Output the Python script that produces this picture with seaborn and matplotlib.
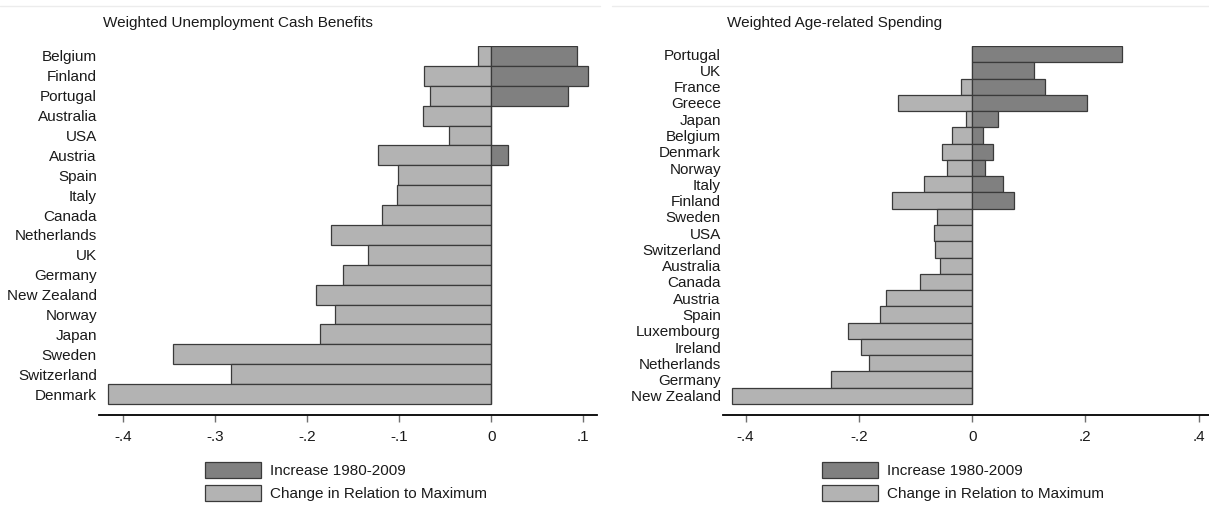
import matplotlib
matplotlib.use("Agg")
import matplotlib.pyplot as plt
from matplotlib.patches import Patch
from matplotlib.lines import Line2D
import seaborn as sns
import pandas as pd

# ---------------- data ----------------
left_countries = ["Belgium", "Finland", "Portugal", "Australia", "USA", "Austria",
                  "Spain", "Italy", "Canada", "Netherlands", "UK", "Germany",
                  "New Zealand", "Norway", "Japan", "Sweden", "Switzerland", "Denmark"]
left_increase = [0.093, 0.105, 0.083, 0, 0, 0.018,
                 0, 0, 0, 0, 0, 0,
                 0, 0, 0, 0, 0, 0]
left_change = [-0.014, -0.073, -0.066, -0.074, -0.046, -0.123,
               -0.101, -0.102, -0.119, -0.174, -0.134, -0.161,
               -0.190, -0.170, -0.186, -0.346, -0.283, -0.416]

right_countries = ["Portugal", "UK", "France", "Greece", "Japan", "Belgium",
                   "Denmark", "Norway", "Italy", "Finland", "Sweden", "USA",
                   "Switzerland", "Australia", "Canada", "Austria", "Spain",
                   "Luxembourg", "Ireland", "Netherlands", "Germany", "New Zealand"]
right_increase = [0.264, 0.110, 0.129, 0.202, 0.045, 0.020,
                  0.037, 0.022, 0.055, 0.074, 0, 0,
                  0, 0, 0, 0, 0,
                  0, 0, 0, 0, 0]
right_change = [0, 0, -0.020, -0.131, -0.011, -0.036,
                -0.053, -0.045, -0.085, -0.142, -0.062, -0.068,
                -0.065, -0.056, -0.092, -0.152, -0.163,
                -0.219, -0.197, -0.182, -0.249, -0.424]

left_title = "Weighted Unemployment Cash Benefits"
right_title = "Weighted Age-related Spending"
left_ticks = [-0.4, -0.3, -0.2, -0.1, 0, 0.1]
left_ticklabels = ["-.4", "-.3", "-.2", "-.1", "0", ".1"]
right_ticks = [-0.4, -0.2, 0, 0.2, 0.4]
right_ticklabels = ["-.4", "-.2", "0", ".2", ".4"]
legend_labels = ["Increase 1980-2009", "Change in Relation to Maximum"]

# ---------------- style ----------------
sns.set_theme(style="white")
plt.rcParams["font.family"] = ["Liberation Sans", "DejaVu Sans"]

DARK = "#808080"
LIGHT = "#b3b3b3"
EDGE = "#3a3a3a"
TXT = "#1a1a1a"
FS = 11

W, H = 1209, 516
fig = plt.figure(figsize=(W / 100, H / 100), dpi=100)
fig.patch.set_facecolor("white")


def px_axes(x0, x1, ytop, ybot):
    return fig.add_axes([x0 / W, 1 - ybot / H, (x1 - x0) / W, (ybot - ytop) / H])


def panel(ax, countries, inc, chg, xlim, ticks, ticklabels, extra_rows, title, title_x):
    df = pd.DataFrame({"country": countries, "increase": inc, "change": chg})
    sns.barplot(data=df, x="change", y="country", order=countries, orient="h",
                color=LIGHT, saturation=1, width=1.0, errorbar=None,
                edgecolor=EDGE, linewidth=0.9, ax=ax)
    sns.barplot(data=df, x="increase", y="country", order=countries, orient="h",
                color=DARK, saturation=1, width=1.0, errorbar=None,
                edgecolor=EDGE, linewidth=0.9, ax=ax)
    n = len(countries)
    ax.set_ylim(n - 0.5 + extra_rows, -0.5)
    ax.set_xlim(*xlim)
    ax.set_xticks(ticks)
    ax.set_xticklabels(ticklabels, fontsize=FS, color=TXT)
    ax.set_xlabel("")
    ax.set_ylabel("")
    ax.tick_params(axis="x", length=5, width=1, color="#707070", pad=5.5, direction="out",
                   bottom=True)
    ax.tick_params(axis="y", length=0, pad=1.5, labelsize=FS, labelcolor=TXT)
    for s in ["top", "right", "left"]:
        ax.spines[s].set_visible(False)
    ax.spines["bottom"].set_color("black")
    ax.spines["bottom"].set_linewidth(1.3)
    ax.set_facecolor("white")
    fig.text(title_x / W, 1 - 23 / H, title, fontsize=FS, color=TXT, ha="left", va="center")


ax1 = px_axes(99, 597, 46, 415)
panel(ax1, left_countries, left_increase, left_change, (-0.426, 0.115),
      left_ticks, left_ticklabels, 0.553, left_title, 103)

ax2 = px_axes(723, 1210, 46, 415)
panel(ax2, right_countries, right_increase, right_change, (-0.44, 0.42),
      right_ticks, right_ticklabels, 0.676, right_title, 727)

# faint outer frame lines at top of each panel region
fig.add_artist(Line2D([0, 600 / W], [1 - 6 / H, 1 - 6 / H], color="#ececec", lw=1))
fig.add_artist(Line2D([612 / W, 1], [1 - 6 / H, 1 - 6 / H], color="#ececec", lw=1))

handles = [Patch(facecolor=DARK, edgecolor=EDGE, linewidth=0.9),
           Patch(facecolor=LIGHT, edgecolor=EDGE, linewidth=0.9)]
for ax, lx in [(ax1, 206), (ax2, 823)]:
    ax.legend(handles, legend_labels, loc="upper left",
              bbox_to_anchor=(lx / W - 0.001, 1 - 462 / H), bbox_transform=fig.transFigure,
              frameon=False, fontsize=FS, handlelength=3.65, handleheight=1.24,
              labelspacing=0.42, handletextpad=0.65, borderpad=0, borderaxespad=0,
              labelcolor=TXT)

fig.savefig("out.png", dpi=100, facecolor="white")
